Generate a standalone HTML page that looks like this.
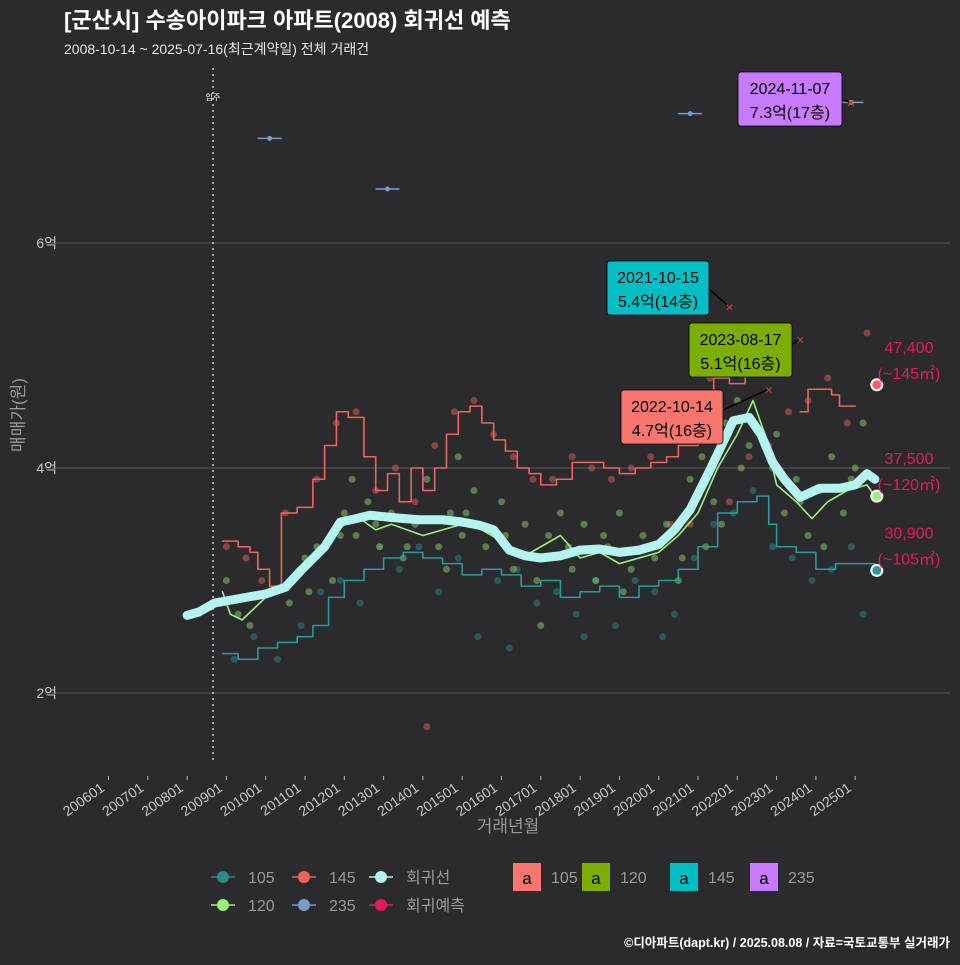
<!DOCTYPE html>
<html><head><meta charset="utf-8">
<style>
body{margin:0;background:#2b2b2d;width:960px;height:960px;overflow:hidden;font-family:"Liberation Sans","Noto Sans CJK KR",sans-serif;}
svg text{font-family:"Liberation Sans","Noto Sans CJK KR",sans-serif;}
</style></head>
<body>
<svg id="chart" width="960" height="960" xmlns="http://www.w3.org/2000/svg">
<rect width="960" height="960" fill="#2b2b2d"/>
<text x="64" y="28" fill="#ffffff" font-size="22" font-weight="bold">[군산시] 수송아이파크 아파트(2008) 회귀선 예측</text>
<text x="64" y="54" fill="#e6e6e6" font-size="14">2008-10-14 ~ 2025-07-16(최근계약일) 전체 거래건</text>
<g id="grid"></g>
<g id="marks"></g>
<text transform="translate(24,415) rotate(-90)" text-anchor="middle" fill="#9a9a9a" font-size="17">매매가(원)</text>
<text x="508" y="832" text-anchor="middle" fill="#9a9a9a" font-size="17">거래년월</text>
<g id="legend"></g>
<text x="950" y="947" text-anchor="end" fill="#ffffff" font-size="12.5" font-weight="bold">©디아파트(dapt.kr) / 2025.08.08 / 자료=국토교통부 실거래가</text>
</svg>
<script>
const yTicks=[2,4,6];
const yTickLabels=["2억","4억","6억"];
const xTickYears=[2006,2007,2008,2009,2010,2011,2012,2013,2014,2015,2016,2017,2018,2019,2020,2021,2022,2023,2024,2025];
const xTickLabels=["200601","200701","200801","200901","201001","201101","201201","201301","201401","201501","201601","201701","201801","201901","202001","202101","202201","202301","202401","202501"];
const regYears=[2008.0,2008.3,2008.7,2009.5,2010.0,2010.5,2010.9,2011.5,2011.9,2012.3,2012.65,2013.2,2013.9,2014.5,2015.0,2015.45,2015.8,2016.2,2016.6,2017.0,2017.5,2018.0,2018.5,2019.0,2019.5,2020.0,2020.4,2020.8,2021.3,2021.6,2021.9,2022.3,2022.6,2022.9,2023.2,2023.6,2024.1,2024.6,2025.0,2025.3,2025.5];
const regValues=[2.69,2.72,2.8,2.85,2.88,2.94,3.09,3.3,3.52,3.55,3.58,3.56,3.54,3.54,3.52,3.49,3.45,3.27,3.22,3.2,3.22,3.27,3.28,3.25,3.27,3.32,3.45,3.63,3.98,4.2,4.42,4.45,4.3,4.05,3.9,3.74,3.82,3.82,3.85,3.95,3.9];
const s145Years=[2008.9,2009.3,2009.6,2009.8,2010.1,2010.4,2010.8,2011.2,2011.5,2011.8,2012.1,2012.5,2012.8,2013.1,2013.4,2013.7,2014.0,2014.3,2014.6,2014.9,2015.2,2015.5,2015.8,2016.1,2016.4,2016.7,2017.0,2017.4,2017.8,2018.2,2018.6,2019.0,2019.4,2019.8,2020.2,2020.5,2021.0,2021.4,2021.8,2022.2];
const s145Values=[3.35,3.3,3.25,3.1,2.95,3.6,3.65,3.9,4.2,4.5,4.45,4.1,3.8,3.95,3.7,4.0,3.8,4.0,4.3,4.5,4.55,4.4,4.25,4.15,4.0,3.95,3.85,3.9,4.05,4.05,4.0,3.95,4.0,4.05,4.1,4.2,4.5,4.8,4.75,4.9];
const s145bYears=[2023.6,2023.8,2024.0,2024.4,2024.6,2024.8,2025.0];
const s145bValues=[4.5,4.7,4.7,4.65,4.55,4.55,4.55];
const s120Years=[2008.9,2009.1,2009.4,2009.7,2010.0,2010.5,2011.0,2011.5,2012.0,2012.4,2012.8,2013.2,2013.6,2014.0,2014.5,2015.0,2015.5,2016.0,2016.5,2017.0,2017.5,2018.0,2018.5,2019.0,2019.5,2020.0,2020.5,2021.0,2021.5,2022.0,2022.4,2022.7,2023.0,2023.5,2023.9,2024.3,2024.8,2025.3,2025.5];
const s120Values=[2.9,2.7,2.65,2.75,2.85,2.95,3.1,3.3,3.5,3.55,3.45,3.5,3.45,3.4,3.45,3.5,3.45,3.35,3.2,3.3,3.4,3.2,3.25,3.15,3.2,3.25,3.4,3.6,4.0,4.3,4.6,4.3,3.85,3.7,3.55,3.7,3.8,3.85,3.75];
const s105Years=[2008.9,2009.3,2009.8,2010.3,2010.8,2011.2,2011.6,2012.0,2012.5,2013.0,2013.5,2014.0,2014.5,2015.0,2015.5,2016.0,2016.5,2017.0,2017.5,2018.0,2018.5,2019.0,2019.5,2020.0,2020.5,2021.0,2021.5,2022.0,2022.5,2022.8,2023.0,2023.5,2024.0,2024.5,2025.0,2025.5];
const s105Values=[2.35,2.3,2.4,2.45,2.5,2.6,2.85,3.0,3.1,3.2,3.25,3.2,3.15,3.05,3.1,3.05,2.95,3.0,2.85,2.9,2.95,2.85,2.95,3.0,3.1,3.3,3.6,3.7,3.75,3.5,3.3,3.25,3.1,3.15,3.15,3.09];
const s235Years=[2010.1,2013.1,2020.8,2024.9];
const s235Values=[6.93,6.48,7.15,7.25];
const ptGreenYears=[2009.0,2009.3,2009.6,2010.2,2010.6,2011.0,2011.3,2011.7,2012.0,2012.3,2012.6,2012.9,2013.2,2013.5,2013.8,2014.1,2014.4,2014.7,2015.0,2015.3,2015.6,2016.0,2016.3,2016.6,2016.9,2017.2,2017.5,2017.8,2018.1,2018.4,2018.7,2019.0,2019.3,2019.6,2019.9,2020.2,2020.5,2020.8,2021.1,2021.4,2021.7,2022.0,2022.3,2022.6,2022.9,2023.2,2023.5,2023.8,2024.1,2024.4,2024.7,2025.0,2025.2,2012.2,2014.9,2017.0,2019.1,2021.2,2023.0,2024.9,2011.1,2011.9,2012.8,2013.6,2014.6,2015.1,2016.1,2017.7,2018.6,2019.7,2020.6,2021.6,2022.1,2023.6,2024.2];
const ptGreenValues=[3.0,2.7,2.6,2.9,2.8,3.2,3.3,3.0,3.6,3.4,3.7,3.3,3.6,3.2,3.5,3.9,3.3,3.6,3.4,3.8,3.3,3.7,3.1,3.5,3.0,3.4,3.6,3.1,3.5,3.0,3.3,3.6,3.1,3.4,3.2,3.5,3.0,3.9,4.1,3.7,4.4,4.6,4.2,4.9,4.0,3.6,3.9,3.4,3.8,4.1,3.6,4.0,4.4,3.9,4.1,2.6,2.9,3.3,4.3,3.9,2.9,3.4,3.5,3.3,3.1,3.6,3.4,3.3,3.4,3.3,3.2,3.5,4.0,3.7,3.3];
const ptTealYears=[2009.2,2009.7,2010.3,2010.9,2011.4,2011.9,2012.4,2012.9,2013.4,2013.9,2014.4,2014.9,2015.4,2015.9,2016.4,2016.9,2017.4,2017.9,2018.4,2018.9,2019.4,2019.9,2020.4,2020.9,2021.4,2021.9,2022.4,2022.9,2023.4,2023.9,2024.4,2024.9,2025.2,2016.2,2018.1,2020.1];
const ptTealValues=[2.3,2.5,2.3,2.6,2.9,3.0,2.8,3.3,3.1,3.3,2.9,3.2,2.5,3.0,3.1,2.8,2.9,2.7,3.0,2.6,3.0,2.9,2.7,3.2,3.5,3.6,3.8,3.3,3.2,3.0,3.1,3.3,2.7,2.4,2.5,2.5];
const ptRedYears=[2009.0,2009.5,2009.9,2010.5,2011.3,2011.8,2012.3,2012.8,2013.3,2013.8,2014.3,2014.8,2015.3,2015.8,2016.3,2016.8,2017.3,2017.8,2018.3,2018.8,2019.3,2019.8,2020.3,2020.8,2021.3,2021.8,2022.3,2022.8,2023.3,2023.8,2024.3,2024.8,2025.3,2014.1];
const ptRedValues=[3.3,3.2,3.0,3.6,3.9,4.4,4.5,3.8,4.0,3.7,4.2,4.5,4.6,4.3,4.1,3.9,3.9,4.1,4.0,3.9,4.0,4.1,3.5,3.5,4.8,3.7,4.1,4.2,4.5,4.6,4.8,4.4,5.2,1.7];
const endYears=[2025.55,2025.55,2025.55];
const endValues=[4.74,3.75,3.09];
const endLabels=["47,400","37,500","30,900"];
const endAreas=["(~145㎡)","(~120㎡)","(~105㎡)"];

const NS="http://www.w3.org/2000/svg";
function X(yr){return 108.5+(yr-2006)*39.3;}
function Y(v){return 468-(v-4)*112.5;}
function mk(tag,attrs,parent){const e=document.createElementNS(NS,tag);for(const k in attrs)e.setAttribute(k,attrs[k]);parent.appendChild(e);return e;}
const grid=document.getElementById('grid'),marks=document.getElementById('marks'),legend=document.getElementById('legend');
yTicks.forEach((t,i)=>{
 const l=mk('line',{x1:45,x2:950,y1:Y(t),y2:Y(t),stroke:'#5a5a5a','stroke-width':1},grid);
 
 
 const tx=mk('text',{x:57,y:Y(t)+5,'text-anchor':'end',fill:'#c8c8c8','font-size':14},grid);
 tx.textContent=yTickLabels[i];
 
 
});
xTickYears.forEach((yr,i)=>{
 const x=X(yr);
 const l=mk('line',{x1:x,x2:x,y1:776,y2:780,stroke:'#bdbdbd'},grid);
 
 
 const tx=mk('text',{transform:`translate(${x-3},${790}) rotate(-35)`,'text-anchor':'end',fill:'#c8c8c8','font-size':14},grid);
 tx.textContent=xTickLabels[i];
 
 
});
const mv=mk('line',{x1:213,x2:213,y1:68,y2:762,stroke:'#cccccc','stroke-dasharray':'2,4','stroke-width':1.5},marks);


const mvt=mk('text',{x:213,y:100,'text-anchor':'middle',fill:'#ffffff','font-size':8},marks);
mvt.textContent='입주';



function pts(ys,vs,color,name){ys.forEach((yr,i)=>{const c=mk('circle',{cx:X(yr),cy:Y(vs[i]),r:3.5,fill:color,'fill-opacity':0.5},marks);});}
pts(ptTealYears,ptTealValues,'#2a8a8a','point-105');
pts(ptRedYears,ptRedValues,'#e0605a','point-145');
pts(ptGreenYears,ptGreenValues,'#8fcf6a','point-120');
function line(ys,vs,color,w,name,step){let d='';ys.forEach((yr,i)=>{const x=X(yr),y=Y(vs[i]);if(i===0)d='M'+x+','+y;else if(step)d+=' H'+x+' V'+y;else d+=' L'+x+','+y;});const p=mk('path',{d:d,fill:'none',stroke:color,'stroke-width':w,'stroke-linejoin':'round','stroke-linecap':'round'},marks);}
line(s105Years,s105Values,'#2a9a9e',1.6,'line-105',true);
line(s145Years,s145Values,'#f0645e',1.6,'line-145',true);
line(s145bYears,s145bValues,'#f0645e',1.6,'line-145-recent',true);
line(s120Years,s120Values,'#9af07a',1.6,'line-120',false);
line(regYears,regValues,'#b4f4f0',9,'regression-line',false);
s235Years.forEach((yr,i)=>{const l=mk('line',{x1:X(yr)-12,x2:X(yr)+12,y1:Y(s235Values[i]),y2:Y(s235Values[i]),stroke:'#7b9cc8','stroke-width':1.6},marks);const c=mk('circle',{cx:X(yr),cy:Y(s235Values[i]),r:2.5,fill:'#7b9cc8'},marks);});
const endColors=['#f0645e','#9af07a','#2a9a9e'];
endYears.forEach((yr,i)=>{const c=mk('circle',{cx:X(yr),cy:Y(endValues[i]),r:5.5,fill:endColors[i],stroke:'#ffffff','stroke-width':2},marks);
 const t1=mk('text',{x:909,y:Y(endValues[i])-32,'text-anchor':'middle',fill:'#e8185e','font-size':16},marks);t1.textContent=endLabels[i];
 const t2=mk('text',{x:909,y:Y(endValues[i])-6,'text-anchor':'middle',fill:'#e8185e','font-size':16},marks);t2.textContent=endAreas[i];});
// annotations
const ann=[{x:621,y:390,w:102,c:'#f8766d',d:'2022-10-14',p:'4.7억(16층)',lx:723,ly:410,tx:X(2022.8),ty:Y(4.7)},
{x:607,y:261,w:102,c:'#00bfc4',d:'2021-10-15',p:'5.4억(14층)',lx:709,ly:289,tx:X(2021.8),ty:Y(5.43)},
{x:689,y:323,w:103,c:'#7cae00',d:'2023-08-17',p:'5.1억(16층)',lx:735,ly:378,tx:X(2023.6),ty:Y(5.1)-5},
{x:738,y:72,w:104,c:'#c77cff',d:'2024-11-07',p:'7.3억(17층)',lx:842,ly:100,tx:X(2024.9),ty:Y(7.25)}];
ann.forEach(a=>{const l=mk('line',{x1:a.lx,y1:a.ly,x2:a.tx,y2:a.ty,stroke:'#000','stroke-width':1.5},marks);
 const m=mk('text',{x:a.tx,y:a.ty+5,'text-anchor':'middle',fill:'#e0403a','font-size':14},marks);m.textContent='×';
 const r=mk('rect',{x:a.x,y:a.y,width:a.w,height:54,rx:3,fill:a.c,stroke:'#000','stroke-width':0.8},marks);
 const t1=mk('text',{x:a.x+a.w/2,y:a.y+22,'text-anchor':'middle',fill:'#000','font-size':16},marks);t1.textContent=a.d;
 const t2=mk('text',{x:a.x+a.w/2,y:a.y+46,'text-anchor':'middle',fill:'#000','font-size':16},marks);t2.textContent=a.p;});
// legend
const lg=[['#2a8a8a','105',223,877],['#f0645e','145',304,877],['#b4f4f0','회귀선',381,877],['#9af07a','120',223,905],['#7b9cc8','235',304,905],['#e8185e','회귀예측',381,905]];
lg.forEach(g=>{const l=mk('line',{x1:g[2]-12,x2:g[2]+12,y1:g[3],y2:g[3],stroke:g[0],'stroke-width':1.5},legend);
 const c=mk('circle',{cx:g[2],cy:g[3],r:6,fill:g[0]},legend);
 const t=mk('text',{x:g[2]+25,y:g[3]+6,fill:'#9a9a9a','font-size':16},legend);t.textContent=g[1];});
const lb=[['#f8766d','105',513],['#7cae00','120',582],['#00bfc4','145',670],['#c77cff','235',750]];
lb.forEach(b=>{const r=mk('rect',{x:b[2],y:863,width:28,height:28,fill:b[0]},legend);
 const a=mk('text',{x:b[2]+14,y:884,'text-anchor':'middle',fill:'#000','font-size':17},legend);a.textContent='a';
 const t=mk('text',{x:b[2]+38,y:883,fill:'#9a9a9a','font-size':16},legend);t.textContent=b[1];});
</script>
</body></html>
